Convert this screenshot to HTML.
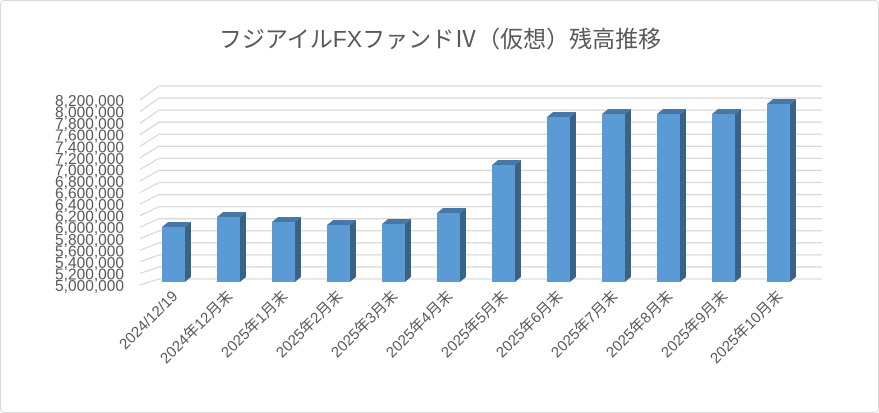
<!DOCTYPE html>
<html><head><meta charset="utf-8"><style>
body{margin:0;background:#fff}
svg{display:block}
text{font-family:"Liberation Sans","Noto Sans CJK JP",sans-serif;fill:#595959}
</style></head><body>
<svg width="879" height="413" viewBox="0 0 879 413" xmlns="http://www.w3.org/2000/svg">
<rect x="0.5" y="0.5" width="878" height="412" rx="4" fill="#fff" stroke="#d9d9d9"/>
<text x="440" y="47" font-size="23" text-anchor="middle">フジアイルFXファンドⅣ（仮想）残高推移</text>
<g id="grid" stroke="#d9d9d9" stroke-width="1.3" fill="none"></g>
<g id="ylab" font-size="15.5" text-anchor="end"></g>
<g id="bars"></g>
<g id="xlab" font-size="15" text-anchor="end"></g>
</svg>
<script>
var ns="http://www.w3.org/2000/svg";
function el(p,t,a,txt){var e=document.createElementNS(ns,t);for(var k in a)e.setAttribute(k,a[k]);if(txt)e.textContent=txt;document.getElementById(p).appendChild(e);}
for(var i=0;i<17;i++){
 var fy=285-i*11.56, by=279-i*(193/16), fx=140, bx=159;
 el("grid","polyline",{points:fx+","+fy+" "+bx+","+by+" 822,"+by});
 var v=5000000+i*200000;
 el("ylab","text",{x:124,y:fy+6},v.toLocaleString("en-US"));
}
var tops=[227,217,222,225,224,213,165,117,114,114,114,104];
var labs=["2024/12/19","2024年12月末","2025年1月末","2025年2月末","2025年3月末","2025年4月末","2025年5月末","2025年6月末","2025年7月末","2025年8月末","2025年9月末","2025年10月末"];
for(var j=0;j<12;j++){
 var x=162+j*55, w=23, t=tops[j], b=282, dx=6, dy=5;
 el("bars","polygon",{points:(x+w)+","+t+" "+(x+w+dx)+","+(t-dy)+" "+(x+w+dx)+","+(b-dy)+" "+(x+w)+","+b,fill:"#386386"});
 el("bars","polygon",{points:x+","+t+" "+(x+dx)+","+(t-dy)+" "+(x+w+dx)+","+(t-dy)+" "+(x+w)+","+t,fill:"#4677a6"});
 el("bars","rect",{x:x,y:t,width:w,height:b-t,fill:"#5b9bd5"});
 var cx=x+w/2+5, cy=297;
 el("xlab","text",{x:cx,y:cy,transform:"rotate(-45 "+cx+" "+cy+")"},labs[j]);
}
</script>
</body></html>
